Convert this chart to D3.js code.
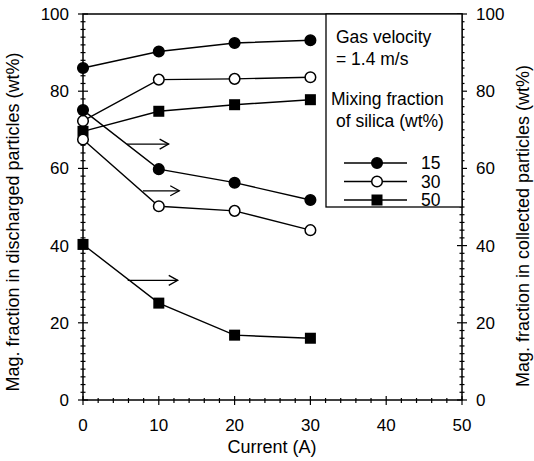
<!DOCTYPE html>
<html>
<head>
<meta charset="utf-8">
<script src="https://cdn.jsdelivr.net/npm/d3@7"></script>
<style>
  body { margin: 0; background: #fff; }
  text { font-family: "Liberation Sans", Arial, sans-serif; fill: #000; }
</style>
</head>
<body>
<svg id="chart" width="534" height="461"></svg>
<script>
// currents (A)
var currents = [0, 10, 20, 30];
var xTicks = [0, 10, 20, 30, 40, 50];
var yTicks = [0, 20, 40, 60, 80, 100];

// discharged particles (left axis), rising curves
var disc15 = [86.0, 90.3, 92.5, 93.2];
var disc30 = [72.3, 83.0, 83.2, 83.6];
var disc50 = [69.6, 74.8, 76.5, 77.8];

// collected particles (right axis), falling curves
var coll15 = [75.1, 59.8, 56.3, 51.8];
var coll30 = [67.5, 50.2, 49.0, 44.0];
var coll50 = [40.3, 25.1, 16.8, 16.0];

// arrows pointing to right axis: [y, xStart, xEnd]
var arrows = [[66.3, 5.8, 11.3], [54.2, 7.9, 12.7], [31.0, 5.9, 12.5]];

var legendItems = ["15", "30", "50"];
var markerTypes = ["filled", "open", "square"];

const svg = d3.select("#chart");
const margin = {left: 83, right: 72, top: 14, bottom: 61};
const width = 534, height = 461;
const fs = 17;

const x = d3.scaleLinear().domain([0, 50]).range([margin.left, width - margin.right]);
const y = d3.scaleLinear().domain([0, 100]).range([height - margin.bottom, margin.top]);

// frame
svg.append("rect")
  .attr("x", x(0)).attr("y", y(100))
  .attr("width", x(50) - x(0)).attr("height", y(0) - y(100))
  .attr("fill", "none").attr("stroke", "#000").attr("stroke-width", 1.5);

// ticks
const g = svg.append("g").attr("stroke", "#000").attr("stroke-width", 1.2);
d3.range(0, 51, 2).forEach(v => {
  const major = v % 10 === 0;
  g.append("line").attr("x1", x(v)).attr("x2", x(v))
    .attr("y1", y(0) - (major ? 4 : 2)).attr("y2", y(0) + (major ? 5 : 3));
});
d3.range(0, 101, 2).forEach(v => {
  const major = v % 20 === 0;
  [x(0), x(50)].forEach(px => {
    g.append("line").attr("y1", y(v)).attr("y2", y(v))
      .attr("x1", px - (major ? 5 : 2.5)).attr("x2", px + (major ? 5 : 2.5));
  });
});

// tick labels
svg.selectAll(".xt").data(xTicks).enter().append("text")
  .attr("x", d => x(d)).attr("y", y(0) + 31)
  .attr("text-anchor", "middle").attr("font-size", fs).text(d => d);
svg.selectAll(".yl").data(yTicks).enter().append("text")
  .attr("x", x(0) - 14).attr("y", d => y(d) + 6)
  .attr("text-anchor", "end").attr("font-size", fs).text(d => d);
svg.selectAll(".yr").data(yTicks).enter().append("text")
  .attr("x", x(50) + 14).attr("y", d => y(d) + 6)
  .attr("text-anchor", "start").attr("font-size", fs).text(d => d);

// axis titles
svg.append("text").attr("x", 272).attr("y", 453)
  .attr("text-anchor", "middle").attr("font-size", 18).text("Current (A)");
svg.append("text")
  .attr("transform", "translate(19,222) rotate(-90)")
  .attr("text-anchor", "middle").attr("font-size", 18)
  .text("Mag. fraction in discharged particles  (wt%)");
svg.append("text")
  .attr("transform", "translate(529,226) rotate(-90)")
  .attr("text-anchor", "middle").attr("font-size", 18)
  .text("Mag. fraction in collected particles  (wt%)");

const line = d3.line().x((d, i) => x(currents[i])).y(d => y(d));

function drawMarker(sel, type, cx, cy) {
  if (type === "square") {
    sel.append("rect").attr("x", cx - 5.5).attr("y", cy - 5.5)
      .attr("width", 11).attr("height", 11).attr("fill", "#000");
  } else {
    sel.append("circle").attr("cx", cx).attr("cy", cy).attr("r", 5.3)
      .attr("fill", type === "filled" ? "#000" : "#fff")
      .attr("stroke", "#000").attr("stroke-width", 1.5);
  }
}

const series = [
  [disc15, "filled"], [disc30, "open"], [disc50, "square"],
  [coll15, "filled"], [coll30, "open"], [coll50, "square"]
];
const lines = svg.append("g");
series.forEach(([vals]) => {
  lines.append("path").attr("d", line(vals))
    .attr("fill", "none").attr("stroke", "#000").attr("stroke-width", 1.4);
});
const marks = svg.append("g");
series.forEach(([vals, type]) => {
  vals.forEach((v, i) => drawMarker(marks, type, x(currents[i]), y(v)));
});

// arrows
const ag = svg.append("g").attr("stroke", "#000").attr("stroke-width", 1.3).attr("fill", "none");
arrows.forEach(([v, a, b]) => {
  ag.append("line").attr("x1", x(a)).attr("x2", x(b)).attr("y1", y(v)).attr("y2", y(v));
  ag.append("path").attr("d", `M${x(b) - 9},${y(v) - 5} L${x(b)},${y(v)} L${x(b) - 9},${y(v) + 5}`);
});

// legend box
const lx = 326, ly = y(100), lw = x(50) - 326, lh = 207 - y(100);
svg.append("rect").attr("x", lx).attr("y", ly).attr("width", lw).attr("height", lh)
  .attr("fill", "#fff").attr("stroke", "#000").attr("stroke-width", 1.3);
const lt = svg.append("g").attr("font-size", 17.5);
lt.append("text").attr("x", 336).attr("y", 43).text("Gas velocity");
lt.append("text").attr("x", 336).attr("y", 65).text("= 1.4 m/s");
lt.append("text").attr("x", 331).attr("y", 105).text("Mixing fraction");
lt.append("text").attr("x", 336).attr("y", 127).text("of silica (wt%)");
legendItems.forEach((lab, i) => {
  const yy = 163 + i * 18.5;
  svg.append("line").attr("x1", 344).attr("x2", 407).attr("y1", yy).attr("y2", yy)
    .attr("stroke", "#000").attr("stroke-width", 1.4);
  drawMarker(svg, markerTypes[i], 377, yy);
  lt.append("text").attr("x", 421).attr("y", yy + 6).text(lab);
});
</script>
</body>
</html>
